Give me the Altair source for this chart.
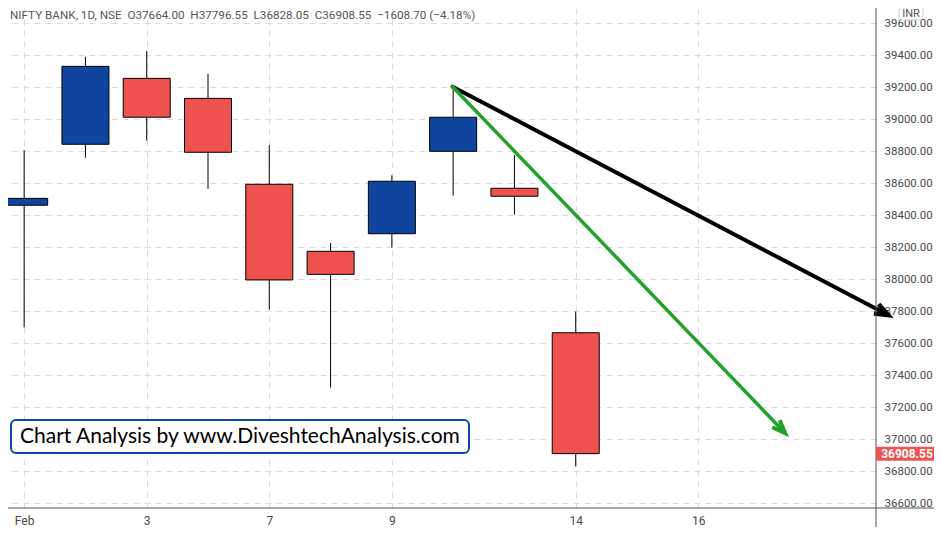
import altair as alt
import pandas as pd

# ---- data ----
dates = ["Feb 1", "Feb 2", "Feb 3", "Feb 4", "Feb 7", "Feb 8", "Feb 9", "Feb 10", "Feb 11", "Feb 14"]
opens = [38461, 38842, 39254, 39129, 38592, 38173, 38283, 38798, 38567, 37664.00]
highs = [38806, 39389, 39425, 39281, 38837, 38225, 38648, 39202, 38775, 37796.55]
lows = [37698, 38758, 38864, 38564, 37808, 37321, 38196, 38521, 38402, 36828.05]
closes = [38504, 39329, 39011, 38792, 37994, 38029, 38611, 39011, 38517.25, 36908.55]

tick_idx = [0, 2, 4, 6, 9, 11]
tick_labels = ["Feb", "3", "7", "9", "14", "16"]
price_ticks = list(range(36600, 39601, 200))

# trend arrows (start index, start price, end index, end price)
black_arrow = [6.99, 39202, 14.097, 37775]
green_arrow = [6.99, 39202, 12.419, 37036]

NB = "\u00a0\u00a0"
title_text = NB.join(["NIFTY BANK, 1D, NSE", "O37664.00", "H37796.55", "L36828.05",
                      "C36908.55", "\u22121608.70 (\u22124.18%)"])
note_text = "Chart Analysis by www.DiveshtechAnalysis.com"
last_close = closes[-1]

df = pd.DataFrame({"idx": list(range(len(dates))), "date": dates,
                   "open": opens, "high": highs, "low": lows, "close": closes})
arrows = pd.DataFrame({
    "name": ["black", "green"],
    "x0": [black_arrow[0], green_arrow[0]], "y0": [black_arrow[1], green_arrow[1]],
    "x1": [black_arrow[2], green_arrow[2]], "y1": [black_arrow[3], green_arrow[3]],
})

W, H = 868, 500
RP, BP = 58, 19
xscale = alt.Scale(domain=[-0.182, 13.818], nice=False, zero=False)
yscale = alt.Scale(domain=[36568.75, 39693.75], nice=False, zero=False)

BLUE = "#0f459e"
RED = "#ef5350"
GRID = "#dcdcdc"
TXT = "#4a4a4a"

label_expr = "[" + ",".join("'%s'" % t for t in tick_labels) + "][indexof([" + \
    ",".join(str(i) for i in tick_idx) + "], datum.value)]"

x_axis = alt.Axis(orient="bottom", values=tick_idx, labelExpr=label_expr, title=None,
                  grid=True, gridDash=[6, 5], gridColor=GRID, domain=False, ticks=False,
                  labelPadding=7, labelFont="Roboto", labelFontSize=12, labelColor=TXT)
y_axis = alt.Axis(orient="right", values=price_ticks, format=".2f", title=None,
                  grid=True, gridDash=[6, 5], gridColor=GRID, domain=False, ticks=False,
                  labelPadding=8, labelFont="Roboto", labelFontSize=11.5, labelColor=TXT)

base = alt.Chart(df)

wicks = base.mark_rule(color="black", strokeWidth=1).encode(
    x=alt.X("idx:Q", scale=xscale, axis=x_axis),
    y=alt.Y("low:Q", scale=yscale, axis=y_axis),
    y2="high:Q",
)

bodies = base.mark_bar(size=47, stroke="black", strokeWidth=1, clip=True).encode(
    x=alt.X("idx:Q", scale=xscale, axis=x_axis),
    y=alt.Y("open:Q", scale=yscale, axis=y_axis),
    y2="close:Q",
    color=alt.condition("datum.close > datum.open", alt.value(BLUE), alt.value(RED)),
)

arrow_path = "M -1.3 -0.5 L 0 0 L -1.3 0.5"

def arrow_layers(name, color, width, angle):
    d = alt.Chart(arrows).transform_filter(alt.datum.name == name)
    line = d.mark_rule(color=color, strokeWidth=width, clip=False, strokeCap="round").encode(
        x=alt.X("x0:Q", scale=xscale, axis=x_axis), y=alt.Y("y0:Q", scale=yscale, axis=y_axis),
        x2="x1:Q", y2="y1:Q")
    head = d.mark_point(shape=arrow_path, size=420, filled=False, stroke=color,
                        strokeWidth=width + 0.5, angle=angle, opacity=1, clip=False,
                        strokeJoin="miter").encode(
        x=alt.X("x1:Q", scale=xscale, axis=x_axis), y=alt.Y("y1:Q", scale=yscale, axis=y_axis))
    return line + head

black = arrow_layers("black", "black", 4, 27.4)
green = arrow_layers("green", "#22a12c", 3.5, 45.8)

frame_h = alt.Chart().mark_rule(color="#555555", strokeWidth=1, clip=False).encode(
    x=alt.value(0), x2=alt.value(W + RP), y=alt.value(H))
frame_v = alt.Chart().mark_rule(color="#555555", strokeWidth=1, clip=False).encode(
    x=alt.value(W), y=alt.value(-10), y2=alt.value(H + BP))

title = alt.Chart().mark_text(align="left", baseline="middle", font="Roboto",
                              fontSize=11.7, color="#555555", clip=False).encode(
    x=alt.value(2), y=alt.value(7), text=alt.datum(title_text))

note_box = alt.Chart().mark_rect(fill="white", stroke="#0d47a1", strokeWidth=2,
                                 cornerRadius=5).encode(
    x=alt.value(3), x2=alt.value(461), y=alt.value(412), y2=alt.value(445))
note = alt.Chart().mark_text(align="left", baseline="middle", font="Lato", fontSize=21,
                             color="black").encode(
    x=alt.value(12), y=alt.value(429), text=alt.datum(note_text))

inr_box = alt.Chart().mark_rect(fill="white", stroke="#cfcfcf", strokeWidth=1,
                                cornerRadius=4, clip=False).encode(
    x=alt.value(891), x2=alt.value(915), y=alt.value(-2), y2=alt.value(12))
inr = alt.Chart().mark_text(align="center", baseline="middle", font="Roboto",
                            fontSize=11, color="#555555", clip=False).encode(
    x=alt.value(903), y=alt.value(6), text=alt.datum("INR"))

last_box = alt.Chart().mark_rect(fill=RED, yOffset=-7, y2Offset=7, clip=False).encode(
    x=alt.value(W), x2=alt.value(W + RP),
    y=alt.Y(datum=last_close, scale=yscale, axis=y_axis), y2=alt.Y2(datum=last_close))
last_txt = alt.Chart().mark_text(align="center", baseline="middle", font="Roboto",
                                 fontSize=12, fontWeight="bold", color="white",
                                 clip=False).encode(
    x=alt.value(W + 31), y=alt.Y(datum=last_close, scale=yscale, axis=y_axis),
    text=alt.datum(f"{last_close:.2f}"))

chart = alt.layer(
    wicks, bodies, black, green, frame_h, frame_v, title, note_box, note,
    last_box, last_txt, inr_box, inr,
).properties(
    width=W, height=H,
    autosize=alt.AutoSizeParams(type="none"),
    padding={"left": 0, "top": 0, "right": RP, "bottom": BP},
    background="white",
).configure_view(stroke=None)

chart.save("out.html", embed_options={"renderer": "svg", "actions": False})
